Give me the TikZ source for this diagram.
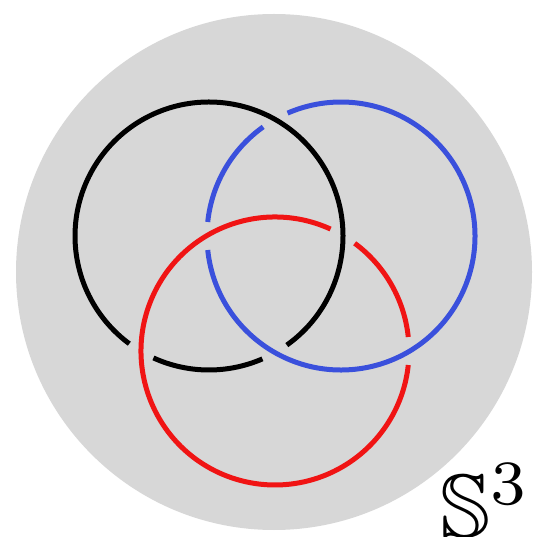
\documentclass[tikz,border=0pt]{standalone}
\usepackage{amssymb}
\usepackage{graphicx}
\definecolor{diskgray}{RGB}{215,215,215}
\definecolor{ringblue}{RGB}{58,80,220}
\definecolor{ringred}{RGB}{240,20,20}
\begin{document}
\begin{tikzpicture}[x=1pt,y=1pt,
  ring/.style={line width=5pt},
]
\useasboundingbox (0,0) rectangle (541,536);
\fill[diskgray] (274,264) circle[radius=258];
% centres
\coordinate (A) at (209,300);
\coordinate (B) at (341,300);
\coordinate (C) at (275,185);
% black ring (gaps at -60.5 and -120.5)
\draw[ring,black] ([shift={(-54.5:134)}]A) arc[start angle=-54.5,end angle=233.5,radius=134];
\draw[ring,black] ([shift={(-114.5:134)}]A) arc[start angle=-114.5,end angle=-66.5,radius=134];
% blue ring (gaps at 119.5 and 180)
\draw[ring,ringblue] ([shift={(186:134)}]B) arc[start angle=186,end angle=473.5,radius=134];
\draw[ring,ringblue] ([shift={(125.5:134)}]B) arc[start angle=125.5,end angle=174,radius=134];
% red ring (gaps at 0 and 59.5)
\draw[ring,ringred] ([shift={(65.5:134)}]C) arc[start angle=65.5,end angle=354,radius=134];
\draw[ring,ringred] ([shift={(6:134)}]C) arc[start angle=6,end angle=53.5,radius=134];
\node[anchor=base west,inner sep=0pt] (label) at (440,-1) {\scalebox{9}{$\mathbb{S}^3$}};
\end{tikzpicture}
\end{document}
